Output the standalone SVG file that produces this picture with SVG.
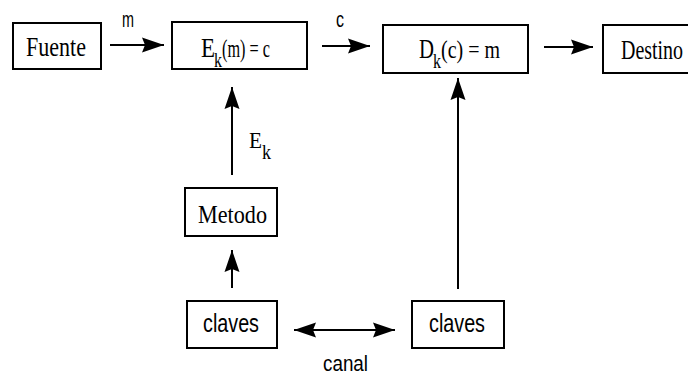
<svg xmlns="http://www.w3.org/2000/svg" width="688" height="376" viewBox="0 0 688 376">
<defs>
<style>
.box{fill:#fff;stroke:#000;stroke-width:2}
.ln{stroke:#000;stroke-width:2;fill:none}
.serif{font-family:"Liberation Serif","Times New Roman",serif;fill:#000}
.sans{font-family:"Liberation Sans",Arial,sans-serif;fill:#000}
</style>
<marker id="ah" markerUnits="userSpaceOnUse" markerWidth="24" markerHeight="18" refX="22" refY="9" orient="auto-start-reverse">
<path d="M0,1.5 L22,9 L0,16.5 L3,9 Z" fill="#000"/>
</marker>
</defs>
<rect width="688" height="376" fill="#fff"/>
<g id="connectors">
<line class="ln" x1="110" y1="45" x2="164" y2="45" marker-end="url(#ah)"/>
<line class="ln" x1="322" y1="46" x2="370" y2="46" marker-end="url(#ah)"/>
<line class="ln" x1="544" y1="47" x2="593" y2="47" marker-end="url(#ah)"/>
<line class="ln" x1="232" y1="175" x2="232" y2="87" marker-end="url(#ah)"/>
<line class="ln" x1="232" y1="288" x2="232" y2="250" marker-end="url(#ah)"/>
<line class="ln" x1="294" y1="330" x2="395" y2="330" marker-start="url(#ah)" marker-end="url(#ah)"/>
<line class="ln" x1="458" y1="289" x2="458" y2="78" marker-end="url(#ah)"/>
<text class="sans" x="122" y="27" font-size="22" textLength="12" lengthAdjust="spacingAndGlyphs">m</text>
<text class="sans" x="336" y="27" font-size="22" textLength="8" lengthAdjust="spacingAndGlyphs">c</text>
<text class="serif" font-size="24"><tspan x="249" y="148" textLength="13" lengthAdjust="spacingAndGlyphs">E</tspan><tspan x="262" y="159" font-size="20" textLength="9" lengthAdjust="spacingAndGlyphs">k</tspan></text>
<text class="sans" x="323" y="371" font-size="22" textLength="45" lengthAdjust="spacingAndGlyphs">canal</text>
</g>
<g id="fuente">
<rect class="box" x="13" y="23" width="88" height="46"/>
<text class="serif" x="26" y="56" font-size="28" textLength="60" lengthAdjust="spacingAndGlyphs">Fuente</text>
</g>
<g id="cifrado">
<rect class="box" x="172" y="22" width="135" height="47"/>
<text class="serif" font-size="28"><tspan x="201" y="57" textLength="14" lengthAdjust="spacingAndGlyphs">E</tspan><tspan x="214" y="67" font-size="20" textLength="8" lengthAdjust="spacingAndGlyphs">k</tspan><tspan x="222" y="57" font-size="26" textLength="48" lengthAdjust="spacingAndGlyphs">(m) = c</tspan></text>
</g>
<g id="descifrado">
<rect class="box" x="383" y="25" width="145" height="48"/>
<text class="serif" font-size="28"><tspan x="419" y="58" textLength="15" lengthAdjust="spacingAndGlyphs">D</tspan><tspan x="433" y="68" font-size="20" textLength="8" lengthAdjust="spacingAndGlyphs">k</tspan><tspan x="441" y="58" font-size="26" textLength="59" lengthAdjust="spacingAndGlyphs">(c) = m</tspan></text>
</g>
<g id="destino">
<rect class="box" x="603" y="25" width="95" height="48"/>
<text class="serif" x="621" y="59" font-size="28" textLength="62" lengthAdjust="spacingAndGlyphs">Destino</text>
</g>
<g id="metodo">
<rect class="box" x="185" y="188" width="92" height="48"/>
<text class="serif" x="198" y="223" font-size="26" textLength="69" lengthAdjust="spacingAndGlyphs">Metodo</text>
</g>
<g id="claves1">
<rect class="box" x="187" y="301" width="90" height="47"/>
<text class="sans" x="203" y="332" font-size="25" textLength="56" lengthAdjust="spacingAndGlyphs">claves</text>
</g>
<g id="claves2">
<rect class="box" x="412" y="301" width="92" height="47"/>
<text class="sans" x="429" y="332" font-size="25" textLength="56" lengthAdjust="spacingAndGlyphs">claves</text>
</g>
</svg>
